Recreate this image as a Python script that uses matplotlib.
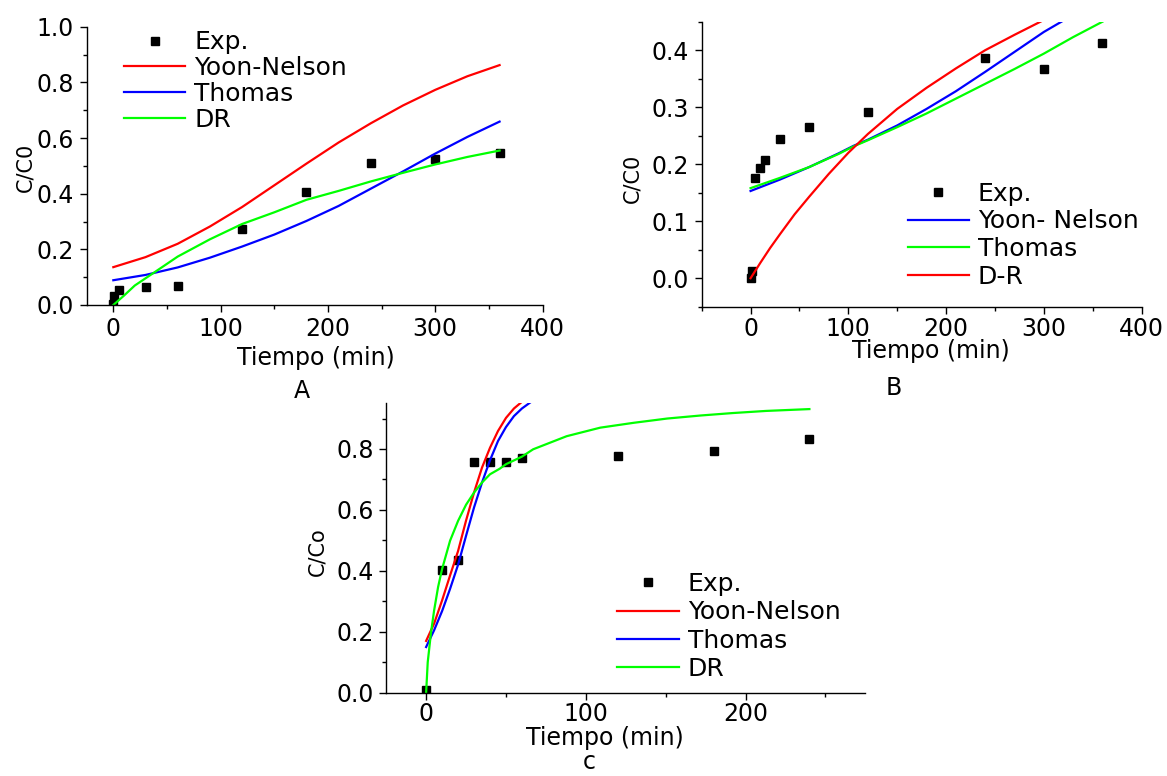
import matplotlib
matplotlib.use("Agg")
import matplotlib.pyplot as plt
from matplotlib.ticker import MultipleLocator, FormatStrFormatter

plt.rcParams['font.family'] = ['DejaVu Sans']

# ---------------- Panel A data ----------------
a_exp_t = [0, 1, 5, 30, 60, 120, 180, 240, 300, 360]
a_exp_v = [0.003, 0.032, 0.054, 0.063, 0.068, 0.274, 0.406, 0.511, 0.526, 0.546]
a_fit_t = [0, 30, 60, 90, 120, 150, 180, 210, 240, 270, 300, 330, 360]
a_yn = [0.136, 0.172, 0.220, 0.282, 0.352, 0.430, 0.508, 0.584, 0.653, 0.717, 0.773, 0.822, 0.862]
a_th = [0.089, 0.108, 0.135, 0.170, 0.210, 0.253, 0.302, 0.356, 0.418, 0.480, 0.544, 0.604, 0.659]
a_dr_t = [0, 10, 20, 37, 60, 90, 120, 150, 180, 210, 240, 270, 300, 330, 360]
a_dr = [0.0, 0.034, 0.070, 0.114, 0.174, 0.236, 0.291, 0.333, 0.378, 0.410, 0.444, 0.475, 0.505, 0.532, 0.555]

# ---------------- Panel B data ----------------
b_exp_t = [0, 1, 5, 10, 15, 30, 60, 120, 240, 300, 360]
b_exp_v = [0.0, 0.013, 0.176, 0.194, 0.207, 0.245, 0.266, 0.291, 0.387, 0.367, 0.412]
b_yn_t = [0, 30, 60, 90, 105, 120, 150, 180, 210, 240, 270, 300, 320]
b_yn = [0.153, 0.173, 0.195, 0.219, 0.232, 0.243, 0.268, 0.297, 0.328, 0.362, 0.397, 0.432, 0.452]
b_th_t = [0, 30, 60, 90, 105, 120, 150, 180, 210, 240, 270, 300, 330, 360]
b_th = [0.158, 0.176, 0.195, 0.218, 0.231, 0.242, 0.265, 0.289, 0.315, 0.341, 0.367, 0.394, 0.423, 0.450]
b_dr_t = [0, 10, 20, 30, 45, 60, 80, 100, 120, 150, 180, 210, 240, 270, 300]
b_dr = [0.0, 0.027, 0.053, 0.077, 0.112, 0.143, 0.183, 0.220, 0.253, 0.297, 0.334, 0.368, 0.400, 0.427, 0.453]

# ---------------- Panel C data ----------------
c_exp_t = [0, 10, 20, 30, 40, 50, 60, 120, 180, 240]
c_exp_v = [0.010, 0.403, 0.434, 0.756, 0.756, 0.757, 0.770, 0.776, 0.795, 0.832]
c_yn_t = [0, 5, 10, 15, 20, 25, 30, 35, 40, 45, 50, 55, 60]
c_yn = [0.170, 0.227, 0.303, 0.385, 0.465, 0.565, 0.657, 0.739, 0.804, 0.859, 0.902, 0.933, 0.955]
c_th_t = [0, 5, 10, 15, 20, 25, 30, 35, 40, 45, 50, 55, 60, 65]
c_th = [0.150, 0.205, 0.268, 0.341, 0.420, 0.515, 0.608, 0.690, 0.763, 0.826, 0.872, 0.908, 0.933, 0.952]
c_dr_t = [0, 1, 3, 5, 7.5, 10, 15, 20, 25, 30, 35, 40, 46, 50, 60, 67, 88, 109, 130, 151, 172, 192, 213, 240]
c_dr = [0.0, 0.10, 0.195, 0.27, 0.347, 0.406, 0.499, 0.564, 0.617, 0.657, 0.690, 0.717, 0.735, 0.750,
        0.775, 0.799, 0.842, 0.870, 0.886, 0.900, 0.910, 0.918, 0.925, 0.931]

W, H = 1167, 776
RED, BLUE, GREEN = '#FF0000', '#0000FF', '#00FF00'
FS = 17
LFS = 18
LW = 1.6
MS = 5.5

fig = plt.figure(figsize=(W / 100, H / 100), dpi=100)


def make_axes(l, r, t, b):
    return fig.add_axes([l / W, 1 - b / H, (r - l) / W, (b - t) / H])


def style(ax, xpad=4):
    for s in ('top', 'right'):
        ax.spines[s].set_visible(False)
    for s in ('left', 'bottom'):
        ax.spines[s].set_linewidth(1.0)
    ax.tick_params(which='major', direction='out', length=5, width=1, labelsize=FS, pad=4)
    ax.tick_params(axis='x', which='major', pad=xpad)
    ax.tick_params(which='minor', direction='out', length=3, width=1)


def ftext(x, y, s, **kw):
    fig.text(x / W, 1 - y / H, s, ha='center', va='center', **kw)


def legend(ax, handles, labels, x, y, spacing):
    ax.legend(handles, labels, loc='upper left', bbox_to_anchor=(x / W, 1 - y / H),
              bbox_transform=fig.transFigure, frameon=False, fontsize=LFS,
              handlelength=2.45, handletextpad=0.36, borderpad=0, borderaxespad=0,
              labelspacing=spacing, numpoints=1)


# ---------- A ----------
axA = make_axes(86.5, 542.5, 26.7, 305)
style(axA)
eA, = axA.plot(a_exp_t, a_exp_v, 's', color='black', ms=MS, ls='none')
rA, = axA.plot(a_fit_t, a_yn, color=RED, lw=LW)
bA, = axA.plot(a_fit_t, a_th, color=BLUE, lw=LW)
gA, = axA.plot(a_dr_t, a_dr, color=GREEN, lw=LW)
axA.set_xlim(-25, 400)
axA.set_ylim(0, 1.0)
axA.xaxis.set_major_locator(MultipleLocator(100))
axA.xaxis.set_minor_locator(MultipleLocator(50))
axA.yaxis.set_major_locator(MultipleLocator(0.2))
axA.yaxis.set_minor_locator(MultipleLocator(0.1))
axA.yaxis.set_major_formatter(FormatStrFormatter('%.1f'))
legend(axA, [eA, rA, bA, gA], ['Exp.', 'Yoon-Nelson', 'Thomas', 'DR'], 124, 30.3, 0.07)
ftext(315.4, 358, 'Tiempo (min)', fontsize=FS)
ftext(25, 167, 'C/C0', fontsize=15, rotation=90)
ftext(301.5, 391, 'A', fontsize=FS)

# ---------- B ----------
axB = make_axes(701.7, 1141.6, 21.7, 306.7)
style(axB, xpad=2.5)
eB, = axB.plot(b_exp_t, b_exp_v, 's', color='black', ms=MS, ls='none')
bB, = axB.plot(b_yn_t, b_yn, color=BLUE, lw=LW)
gB, = axB.plot(b_th_t, b_th, color=GREEN, lw=LW)
rB, = axB.plot(b_dr_t, b_dr, color=RED, lw=LW)
axB.set_xlim(-50, 400)
axB.set_ylim(-0.05, 0.45)
axB.xaxis.set_major_locator(MultipleLocator(100))
axB.xaxis.set_minor_locator(MultipleLocator(50))
axB.yaxis.set_major_locator(MultipleLocator(0.1))
axB.yaxis.set_minor_locator(MultipleLocator(0.05))
axB.yaxis.set_major_formatter(FormatStrFormatter('%.1f'))
legend(axB, [eB, bB, gB, rB], ['Exp.', 'Yoon- Nelson', 'Thomas', 'D-R'], 907.6, 181.5, 0.15)
ftext(931, 351.5, 'Tiempo (min)', fontsize=FS)
ftext(632.4, 178, 'C/C0', fontsize=15, rotation=90)
ftext(893.7, 388, 'B', fontsize=FS)

# ---------- C ----------
axC = make_axes(386.2, 865.3, 403.3, 692.7)
style(axC, xpad=2)
eC, = axC.plot(c_exp_t, c_exp_v, 's', color='black', ms=MS, ls='none')
rC, = axC.plot(c_yn_t, c_yn, color=RED, lw=LW)
bC, = axC.plot(c_th_t, c_th, color=BLUE, lw=LW)
gC, = axC.plot(c_dr_t, c_dr, color=GREEN, lw=LW)
axC.set_xlim(-25, 275)
axC.set_ylim(0, 0.95)
axC.xaxis.set_major_locator(MultipleLocator(100))
axC.xaxis.set_minor_locator(MultipleLocator(50))
axC.yaxis.set_major_locator(MultipleLocator(0.2))
axC.yaxis.set_minor_locator(MultipleLocator(0.1))
axC.yaxis.set_major_formatter(FormatStrFormatter('%.1f'))
legend(axC, [eC, rC, bC, gC], ['Exp.', 'Yoon-Nelson', 'Thomas', 'DR'], 617.4, 572, 0.17)
ftext(605, 737.5, 'Tiempo (min)', fontsize=FS)
ftext(317.7, 551.7, 'C/Co', fontsize=15, rotation=90)
ftext(589.7, 762, 'c', fontsize=FS)

fig.savefig('out.png', dpi=100)
